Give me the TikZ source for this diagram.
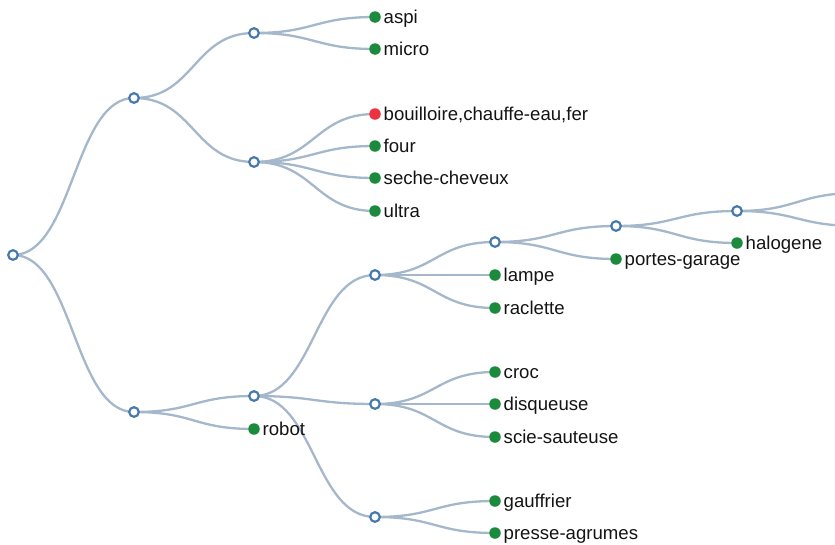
\documentclass[tikz,border=0pt]{standalone}
\usepackage{fontspec}
\setmainfont{Liberation Sans}
\usetikzlibrary{calc}
\pgfdeclarelayer{bg}
\pgfsetlayers{bg,main}
\definecolor{linkc}{RGB}{165,183,202}
\definecolor{innerc}{RGB}{70,122,172}
\definecolor{leafg}{RGB}{28,138,60}
\definecolor{leafr}{RGB}{236,50,62}
\tikzset{
 inode/.style={circle,draw=innerc,line width=2.2pt,fill=white,inner sep=0pt,minimum size=9.6pt},
 leaf/.style={circle,fill=leafg,inner sep=0pt,minimum size=11.5pt},
 redleaf/.style={leaf,fill=leafr},
 lbl/.style={anchor=base west,inner sep=0pt,font=\fontsize{18.6}{22}\selectfont,text=black!92},
 link/.style={draw=linkc,line width=2.3pt},
}
\newcommand\lnk[2]{\draw[link] (#1.center) .. controls +(60.35,0) and +(-60.35,0) .. (#2.center);}
\newcommand\lab[2]{\node[lbl] (#1-t) at ($(#1)+(8.5,6.5)$) {#2};}
\begin{document}
\begin{tikzpicture}[x=1pt,y=-1pt]
\useasboundingbox (0,0) rectangle (835,544);
\clip (0,0) rectangle (835,544);
% internal nodes
\node[inode] (r) at (13,255) {};
\node[inode] (n1) at (134,98) {};
\node[inode] (n2) at (134,412) {};
\node[inode] (n11) at (254,33) {};
\node[inode] (n12) at (254,162) {};
\node[inode] (n21) at (254,396) {};
\node[inode] (n211) at (375,275) {};
\node[inode] (n212) at (375,404) {};
\node[inode] (n213) at (375,517) {};
\node[inode] (n2111) at (495,242) {};
\node[inode] (n21111) at (616,226) {};
\node[inode] (n211111) at (737,211) {};
\coordinate (off1) at (858,193);
\coordinate (off2) at (858,226);
% leaves
\node[leaf] (aspi) at (375,17) {};
\node[leaf] (micro) at (375,49) {};
\node[redleaf] (bouil) at (375,114) {};
\node[leaf] (four) at (375,146) {};
\node[leaf] (seche) at (375,178) {};
\node[leaf] (ultra) at (375,211) {};
\node[leaf] (robot) at (254,429) {};
\node[leaf] (lampe) at (495,275) {};
\node[leaf] (raclette) at (495,308) {};
\node[leaf] (portes) at (616,259) {};
\node[leaf] (halogene) at (737,243) {};
\node[leaf] (croc) at (495,372) {};
\node[leaf] (disq) at (495,404) {};
\node[leaf] (scie) at (495,437) {};
\node[leaf] (gauf) at (495,501) {};
\node[leaf] (presse) at (495,533) {};
% labels
\lab{aspi}{aspi}
\lab{micro}{micro}
\lab{bouil}{bouilloire,chauffe-eau,fer}
\lab{four}{four}
\lab{seche}{seche-cheveux}
\lab{ultra}{ultra}
\lab{robot}{robot}
\lab{lampe}{lampe}
\lab{raclette}{raclette}
\lab{portes}{portes-garage}
\lab{halogene}{halogene}
\lab{croc}{croc}
\lab{disq}{disqueuse}
\lab{scie}{scie-sauteuse}
\lab{gauf}{gauffrier}
\lab{presse}{presse-agrumes}
% links
\begin{pgfonlayer}{bg}
\clip (0,0) rectangle (835,544);
\lnk{r}{n1}\lnk{r}{n2}
\lnk{n1}{n11}\lnk{n1}{n12}
\lnk{n11}{aspi}\lnk{n11}{micro}
\lnk{n12}{bouil}\lnk{n12}{four}\lnk{n12}{seche}\lnk{n12}{ultra}
\lnk{n2}{n21}\lnk{n2}{robot}
\lnk{n21}{n211}\lnk{n21}{n212}\lnk{n21}{n213}
\lnk{n211}{n2111}\lnk{n211}{lampe}\lnk{n211}{raclette}
\lnk{n2111}{n21111}\lnk{n2111}{portes}
\lnk{n21111}{n211111}\lnk{n21111}{halogene}
\lnk{n211111}{off1}\lnk{n211111}{off2}
\lnk{n212}{croc}\lnk{n212}{disq}\lnk{n212}{scie}
\lnk{n213}{gauf}\lnk{n213}{presse}
\end{pgfonlayer}
\end{tikzpicture}
\end{document}
